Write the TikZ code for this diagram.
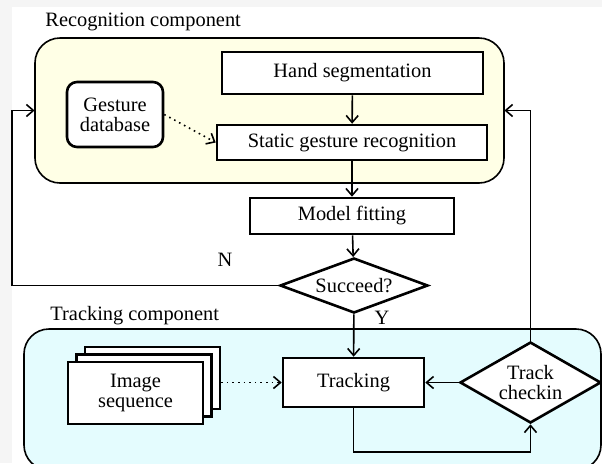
\documentclass[tikz,border=0pt]{standalone}
\usepackage{fontspec}
\setmainfont{Liberation Serif}
\usepackage{xcolor}
\usetikzlibrary{shapes.geometric,arrows.meta}

\definecolor{recogfill}{RGB}{255,255,230}
\definecolor{trackfill}{RGB}{228,252,254}

\tikzset{
    block/.style={draw, fill=white, line width=1.3pt, inner sep=0pt},
    decision/.style={draw, diamond, fill=white, line width=1.3pt, inner sep=0pt},
    group/.style={draw, line width=0.8pt, rounded corners=12.5pt},
    link/.style={line width=0.8pt, ->}
}

\begin{document}
\begin{tikzpicture}[x=0.5pt, y=-0.5pt, >={Straight Barb[length=3.5pt,width=6pt]}, font=\fontsize{10.2}{11}\selectfont]
    \useasboundingbox (0,0) rectangle (602,463);
    \fill[gray!8] (0,0) rectangle (602,463);
    \fill[white] (12,7) rectangle (602,463);

    % Components
    \draw[group, fill=recogfill] (35,38) rectangle (504,183);
    \node (recog) at (269.5,110.5) [minimum width=234.5pt, minimum height=72.5pt] {};
    \node at (45,26) [anchor=base west, inner sep=0pt] {Recognition component};
    \draw[group, fill=trackfill] (24,329) rectangle (601,470);
    \node at (50,320) [anchor=base west, inner sep=0pt] {Tracking component};

    % Recognition blocks
    \node (hand) at (352.5,73) [block, minimum width=130.5pt, minimum height=21pt] {Hand segmentation};
    \node (static) at (352,142.5) [block, minimum width=135pt, minimum height=17.5pt] {Static gesture recognition};
    \node (gdb) at (115,114.5) [block, rounded corners=5pt, minimum width=48pt, minimum height=32.5pt, align=center] {Gesture\\[-1pt]database};
    \node (model) at (352,216) [block, minimum width=102pt, minimum height=18pt] {Model fitting};
    \node (succ) at (354,285.5) [decision, minimum width=74pt, minimum height=27.5pt, aspect=2.7] {Succeed?};

    % Tracking blocks
    \node (seqb) at (152.5,378) [block, minimum width=67.5pt, minimum height=31pt] {};
    \node (seqm) at (144,385.5) [block, minimum width=67.5pt, minimum height=31pt] {};
    \node (seq) at (135.5,393) [block, minimum width=67.5pt, minimum height=31pt, align=center] {Image\\[-1pt]sequence};
    \node (track) at (353.5,382.5) [block, minimum width=70.5pt, minimum height=24.5pt] {Tracking};
    \node (chk) at (530.5,382.5) [decision, minimum width=70.5pt, minimum height=40.5pt] {};
    \node at (chk) [fill=white, inner sep=0.5pt, align=center] {Track\\[-1pt]checkin};

    % Labels
    \node at (225,260) {N};
    \node at (382,318) {Y};

    % Connections
    \coordinate (nleft) at (12,110.5);
    \coordinate (loopb) at (530.5,452);
    \draw[link] (hand) -- (static);
    \draw[link] (static) -- (model);
    \draw[link] (model) -- (succ);
    \draw[link] (succ) -- (track);
    \draw[link] (succ.west) -| (nleft) -- (recog.west);
    \draw[link] (chk.north) |- (recog.east);
    \draw[link] (chk.west) -- (track.east);
    \draw[link] (track.south) |- (loopb) -- (chk.south);
    \draw[link, dotted] (gdb.east) -- (static.west);
    \draw[link, dotted] (seqb.east |- track.west) -- (track.west);
\end{tikzpicture}
\end{document}
